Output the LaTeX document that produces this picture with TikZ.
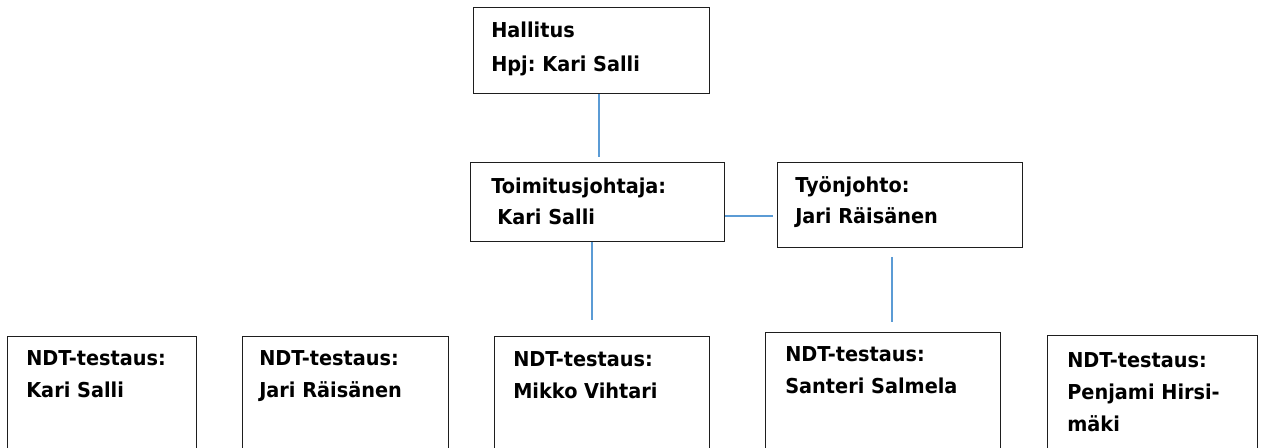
\documentclass[tikz,border=0pt]{standalone}
\usepackage{fontspec}
\setmainfont{DejaVu Sans}[FakeStretch=0.94]
\usepackage{xcolor}
\usepackage{tikz}
\frenchspacing

\definecolor{linkblue}{RGB}{91,155,213}
\tikzset{
  box/.style={draw={rgb,255:red,30;green,30;blue,30}, line width=0.75pt, rectangle, anchor=north west, inner sep=0pt},
  boxtext/.style={anchor=north west, align=left, inner sep=0pt, font=\fontsize{15.4pt}{24pt}\selectfont\bfseries\frenchspacing},
  link/.style={draw=linkblue, line width=0.9pt},
}

\begin{document}
\begin{tikzpicture}[x=0.75pt,y=0.75pt,yscale=-1,xscale=1]
%set diagram size to 1272 x 448
\clip (0,0) rectangle (1272,448);

%Shape: Rectangle [hallitus]
\node[box, minimum width=177pt, minimum height=64.5pt] (hall) at (473,7) {};
%Shape: Rectangle [toimitusjohtaja]
\node[box, minimum width=190.5pt, minimum height=59.25pt] (toim) at (470,162) {};
%Shape: Rectangle [tyonjohto]
\node[box, minimum width=183.75pt, minimum height=63.75pt] (tyon) at (777,162) {};

%Shape: Rectangle [ndt row]
\node[box, minimum width=141.75pt, minimum height=97.5pt] (ndta) at (7,336) {};
\node[box, minimum width=154.5pt, minimum height=97.5pt] (ndtb) at (242,336) {};
\node[box, minimum width=161.25pt, minimum height=97.5pt] (ndtc) at (494,336) {};
\node[box, minimum width=176.25pt, minimum height=97.5pt] (ndtd) at (765,332) {};
\node[box, minimum width=157.5pt, minimum height=97.5pt] (ndte) at (1047,335) {};

% Text Node
\node[boxtext, font=\fontsize{15.4pt}{25.5pt}\selectfont\bfseries\frenchspacing] (hallt) at ([shift={(18,14.5)}]hall.north west) {Hallitus\\Hpj: Kari Salli};
% Text Node
\node[boxtext, font=\fontsize{15.4pt}{23pt}\selectfont\bfseries\frenchspacing] (toimt) at ([shift={(21,15.5)}]toim.north west) {Toimitusjohtaja:\\\hspace*{0.3em}Kari Salli};
% Text Node
\node[boxtext, font=\fontsize{15.4pt}{23pt}\selectfont\bfseries\frenchspacing] (tyont) at ([shift={(18,14.5)}]tyon.north west) {Työnjohto:\\Jari Räisänen};
% Text Node
\node[boxtext] (ndtat) at ([shift={(19,14.5)}]ndta.north west) {NDT-testaus:\\Kari Salli};
% Text Node
\node[boxtext] (ndtbt) at ([shift={(17,14.5)}]ndtb.north west) {NDT-testaus:\\Jari Räisänen};
% Text Node
\node[boxtext] (ndtct) at ([shift={(19,15)}]ndtc.north west) {NDT-testaus:\\Mikko Vihtari};
% Text Node
\node[boxtext] (ndtdt) at ([shift={(20,14.5)}]ndtd.north west) {NDT-testaus:\\Santeri Salmela};
% Text Node
\node[boxtext] (ndtet) at ([shift={(20,17)}]ndte.north west) {NDT-testaus:\\Penjami Hirsi-\\mäki};

%Straight Lines
\coordinate (hallend) at (599,157);
\draw[link] (hall.south -| hallend) -- (hallend);
%Straight Lines
\coordinate (sideend) at (773,216);
\draw[link] (toim.east |- sideend) -- (sideend);
%Straight Lines
\coordinate (toimend) at (592,320);
\draw[link] (toim.south -| toimend) -- (toimend);
%Straight Lines
\coordinate (tyonend) at (892,322);
\draw[link, shorten <=6.75pt] (tyon.south -| tyonend) -- (tyonend);

\end{tikzpicture}
\end{document}
